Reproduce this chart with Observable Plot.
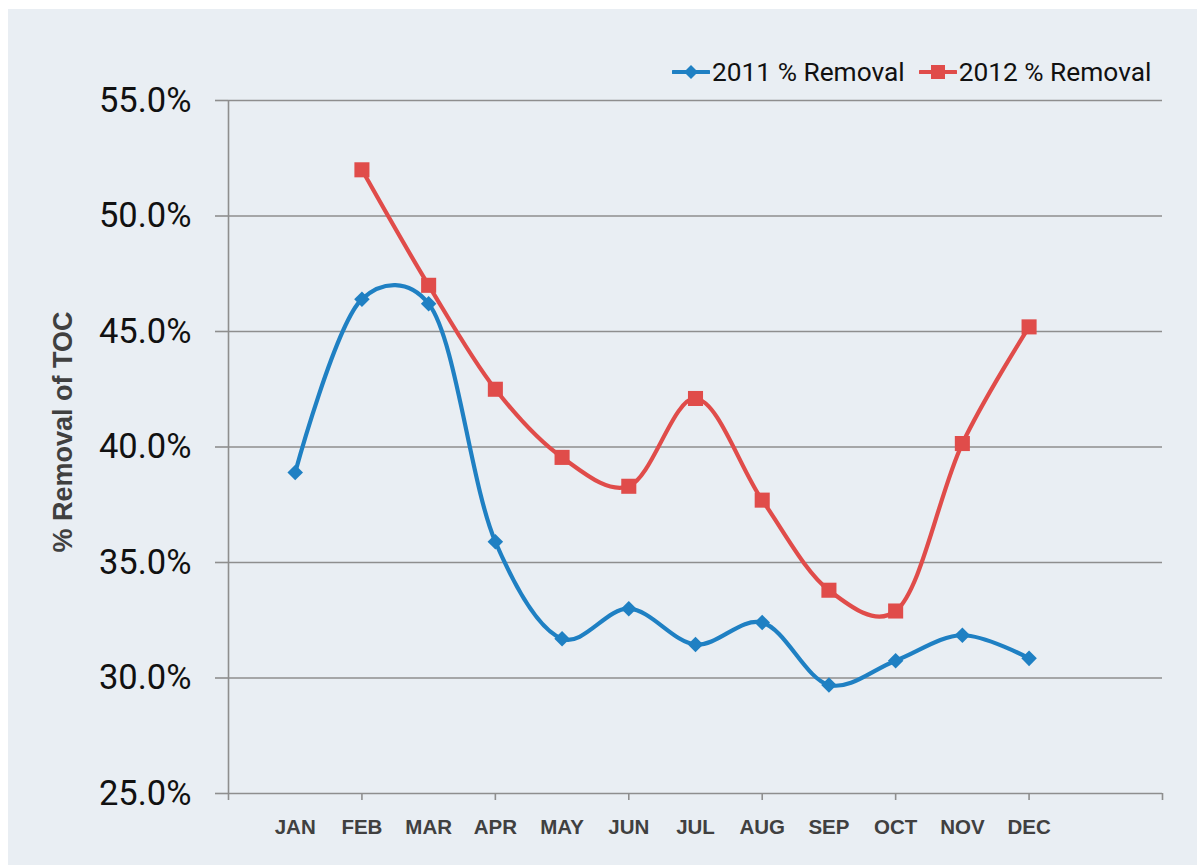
<!DOCTYPE html>
<html>
<head>
<meta charset="utf-8">
<script src="https://cdn.jsdelivr.net/npm/d3@7"></script>
<script src="https://cdn.jsdelivr.net/npm/@observablehq/plot@0.6"></script>
<style>
  html, body { margin: 0; padding: 0; background: #ffffff; width: 1197px; height: 865px; overflow: hidden; }
  #panel { position: absolute; left: 8px; top: 9px; width: 1189px; height: 856px; background: #e9eef3; }
  #chart { position: absolute; left: 0; top: 0; }
  #legend { position: absolute; top: 48px; left: 664px; display: flex; align-items: center;
            font-family: Roboto, "Liberation Sans", sans-serif; font-size: 26.3px; color: #111; white-space: nowrap; }
  #legend .item { display: flex; align-items: center; margin-right: 14px; }
  #legend svg { margin-right: 2px; }
</style>
</head>
<body>
<div id="panel">
  <div id="chart"></div>
  <div id="legend"></div>
</div>
<script>
const months = ["JAN","FEB","MAR","APR","MAY","JUN","JUL","AUG","SEP","OCT","NOV","DEC"];
const removal2011 = [38.9, 46.4, 46.2, 35.9, 31.7, 33.0, 31.45, 32.4, 29.7, 30.75, 31.85, 30.85];
const removal2012 = [null, 52.0, 47.0, 42.5, 39.55, 38.3, 42.1, 37.7, 33.8, 32.9, 40.15, 45.2];
const seriesNames = ["2011 % Removal", "2012 % Removal"];
const seriesColors = ["#1f80c3", "#e04c4a"];
const yTicks = [25, 30, 35, 40, 45, 50, 55];
const xTickSlots = [0, 2, 4, 6, 8, 10, 12, 14];
const yTitle = "% Removal of TOC";

const rows2011 = months.map((m, i) => ({slot: i + 1, month: m, value: removal2011[i]}));
const rows2012 = months.map((m, i) => ({slot: i + 1, month: m, value: removal2012[i]})).filter(d => d.value != null);

const smooth = d3.curveCatmullRom.alpha(0.25);

const chart = Plot.plot({
  width: 1189,
  height: 856,
  marginLeft: 220,
  marginRight: 35,
  marginTop: 91,
  marginBottom: 72,
  style: {background: "transparent", overflow: "visible"},
  x: {type: "linear", domain: [0, 14], axis: null},
  y: {type: "linear", domain: [25, 55], axis: null},
  marks: [
    Plot.ruleY(yTicks, {stroke: "#8e8e8e", strokeWidth: 1.6}),
    Plot.ruleX([0], {stroke: "#8e8e8e", strokeWidth: 1.6, y1: 25, y2: 55}),
    Plot.axisY({ticks: yTicks, tickSize: 13, tickPadding: 24, tickFormat: d => d.toFixed(1) + "%",
                fontSize: 34.5, fontFamily: "Roboto, sans-serif", stroke: "#8e8e8e", strokeWidth: 1.6, color: "#111", label: null}),
    Plot.axisX({ticks: xTickSlots, tickSize: 7, tickFormat: () => "", stroke: "#8e8e8e", strokeWidth: 1.6, label: null}),
    Plot.text(months.map((m, i) => ({slot: i + 1, month: m})), {
      x: "slot", y: () => 25, text: "month", dy: 34,
      fontSize: 20.5, fontWeight: "bold", fontFamily: "'Liberation Sans', Arial, sans-serif", fill: "#404040"
    }),
    Plot.text([yTitle], {
      frameAnchor: "left", textAnchor: "middle", dx: -165, dy: -15, rotate: -90, text: d => d,
      fontSize: 27, fontWeight: "bold", fontFamily: "'Liberation Sans', Arial, sans-serif", fill: "#404040"
    }),
    Plot.line(rows2011, {x: "slot", y: "value", stroke: seriesColors[0], strokeWidth: 4.2, curve: smooth}),
    Plot.line(rows2012, {x: "slot", y: "value", stroke: seriesColors[1], strokeWidth: 4.2, curve: smooth}),
    Plot.dot(rows2011, {x: "slot", y: "value", symbol: "diamond2", r: 7, fill: seriesColors[0], stroke: "none"}),
    Plot.dot(rows2012, {x: "slot", y: "value", symbol: "square", r: 8.5, fill: seriesColors[1], stroke: "none"})
  ]
});
document.getElementById("chart").appendChild(chart);

// legend
const legend = document.getElementById("legend");
seriesNames.forEach((name, i) => {
  const item = document.createElement("div");
  item.className = "item";
  const marker = i === 0
    ? `<polygon points="19,3 26,10 19,17 12,10" fill="${seriesColors[i]}"/>`
    : `<rect x="12" y="3" width="14" height="14" fill="${seriesColors[i]}"/>`;
  item.innerHTML = `<svg width="38" height="20"><line x1="1" y1="10" x2="37" y2="10" stroke="${seriesColors[i]}" stroke-width="4" stroke-linecap="round"/>${marker}</svg><span>${name}</span>`;
  legend.appendChild(item);
});
</script>
</body>
</html>
